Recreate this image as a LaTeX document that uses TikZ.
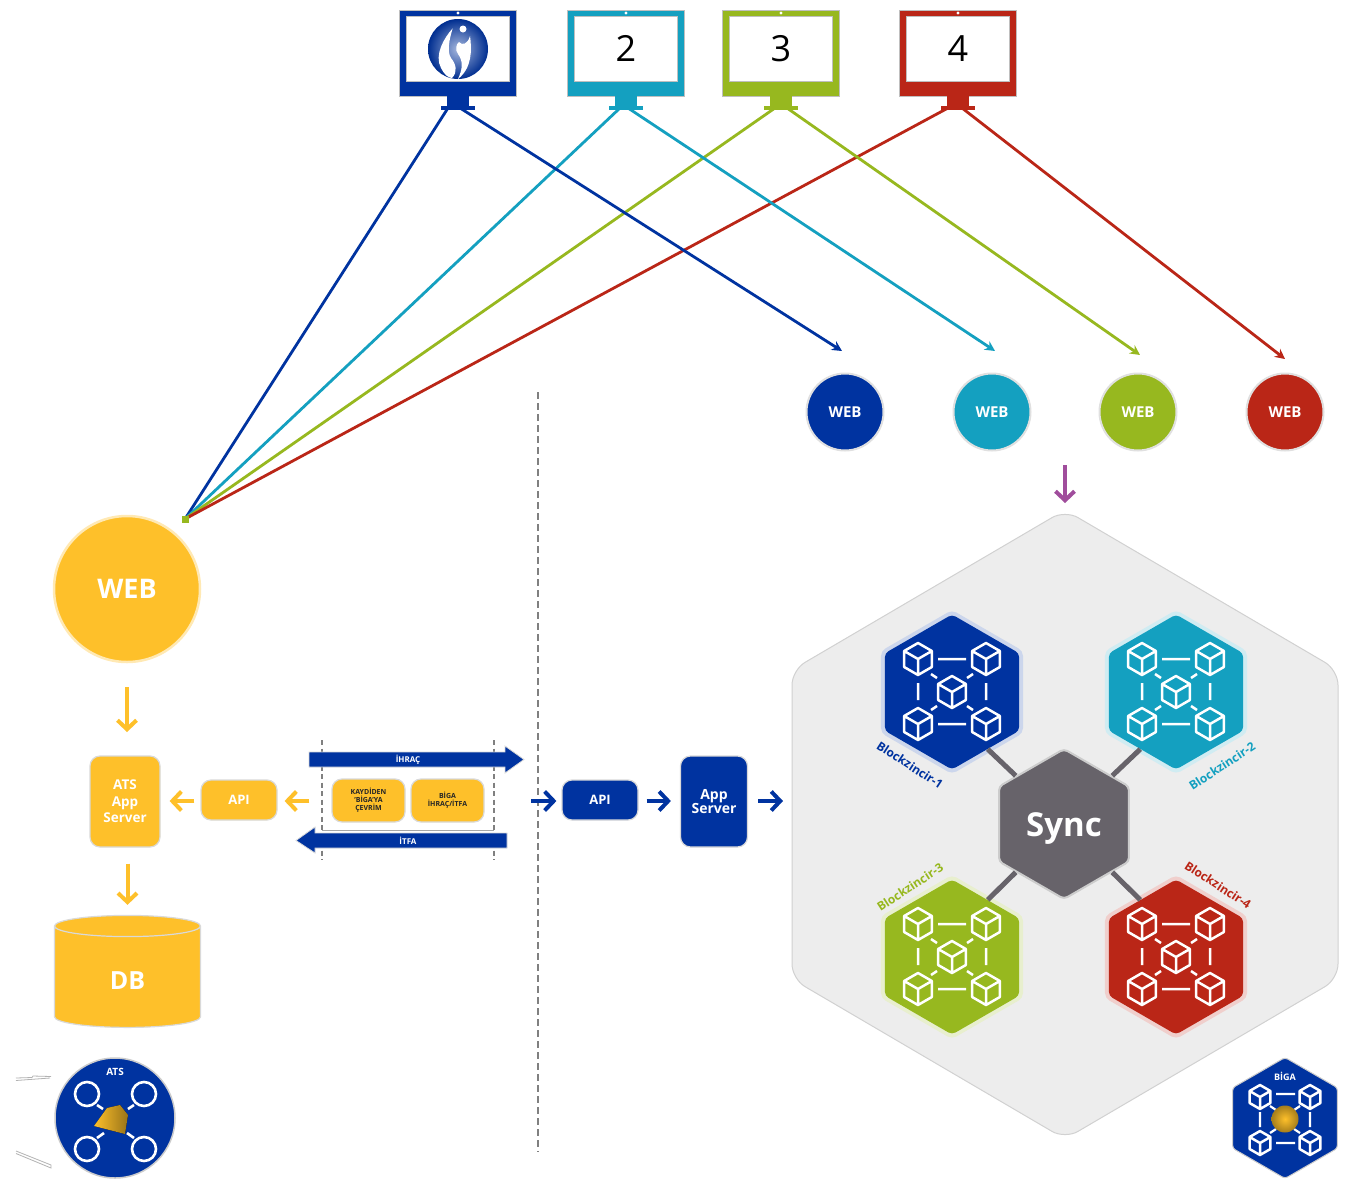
\documentclass[tikz,border=0pt]{standalone}
\usepackage{fontspec}
\setmainfont{Open Sans}
\usetikzlibrary{arrows.meta,shapes.geometric}
\definecolor{cblue}{HTML}{0033A0}
\definecolor{cteal}{HTML}{14A0C0}
\definecolor{cgreen}{HTML}{97B81F}
\definecolor{cred}{HTML}{BA2617}
\definecolor{cyel}{HTML}{FEC02A}
\definecolor{csync}{HTML}{67636A}
\definecolor{cpurple}{HTML}{A04D9C}
\newcommand\fs[1]{\fontsize{#1}{#1}\selectfont}
\tikzset{
  wire/.style={line width=2.8pt,draw=#1,-{Stealth[length=10pt,width=10pt]}},
  wireplain/.style={line width=2.8pt,draw=#1},
  fatarrow/.style={line width=4pt,draw=#1,-{Straight Barb[length=9pt,width=19pt]}},
  webdot/.style={circle,fill=#1,draw=black!12,line width=2pt,minimum size=77pt,inner sep=0pt,text=white,font=\bfseries\fs{15}},
  hexhalo/.style={regular polygon,regular polygon sides=6,shape border rotate=30,minimum size=164pt,inner sep=0pt,fill=#1,rounded corners=5pt},
  hexcore/.style={regular polygon,regular polygon sides=6,shape border rotate=30,minimum size=155pt,inner sep=0pt,fill=#1,rounded corners=4pt},
  ybox/.style={rounded corners=10pt,fill=cyel,draw=black!15,line width=1.2pt,inner sep=0pt,align=center},
  bbox/.style={rounded corners=10pt,fill=cblue,draw=black!15,line width=1.2pt,inner sep=0pt,align=center,text=white},
  screenout/.style={fill=#1,draw=black!25,line width=.8pt,minimum width=117pt,minimum height=86pt,inner sep=0pt},
  screenin/.style={fill=white,draw=black!25,line width=.6pt,minimum width=103pt,minimum height=65pt,inner sep=0pt,font=\fs{36}},
  standneck/.style={fill=#1,minimum width=22pt,minimum height=11pt,inner sep=0pt},
  standfoot/.style={fill=#1,minimum width=34pt,minimum height=4.5pt,inner sep=0pt},
  chainlab/.style={font=\bfseries\fs{12},text=#1,inner sep=0pt},
  guide/.style={draw=black!50,line width=2pt,dash pattern=on 7pt off 4pt},
  guidesmall/.style={draw=black!50,line width=1.2pt,dash pattern=on 5pt off 3.5pt},
  hexlink/.style={draw=csync,line width=5pt},
  iconline/.style={draw=white,line width=2.5pt,line join=round},
  whitelabel/.style={text=white,font=\bfseries\fs{#1},inner sep=0pt,align=center}
}
\newcommand\cubeat[3]{%
  \draw[iconline,shift={(#1,#2)}] (0,-#3) -- ({.866*#3},{-.5*#3}) -- ({.866*#3},{.5*#3}) -- (0,#3) -- ({-.866*#3},{.5*#3}) -- ({-.866*#3},{-.5*#3}) -- cycle
    (0,0) -- ({-.866*#3},{-.5*#3}) (0,0) -- ({.866*#3},{-.5*#3}) (0,0) -- (0,#3);}
\newcommand\chainicon[2]{%
  \begin{scope}[shift={(#1,#2)}]
    \cubeat{-34}{-33}{16}\cubeat{34}{-33}{16}\cubeat{0}{0}{16}\cubeat{-34}{32}{16}\cubeat{34}{32}{16}
    \draw[iconline] (-14,-33) -- (14,-33) (-14,32) -- (14,32) (-34,-9) -- (-34,8) (34,-9) -- (34,8)
      (-21,-18) -- (-15,-14) (21,-18) -- (15,-14) (-21,18) -- (-15,14) (21,18) -- (15,14);
  \end{scope}}
\begin{document}
\begin{tikzpicture}[x=1pt,y=-1pt]
\useasboundingbox (0,0) rectangle (1345,1181);
\fill[white] (0,0) rectangle (1345,1181);

% anchors of the long wires
\coordinate (hub) at (185,519);
\coordinate (m1l) at (448,108); \coordinate (m1r) at (460,108);
\coordinate (m2l) at (620,108); \coordinate (m2r) at (628,108);
\coordinate (m3l) at (775,108); \coordinate (m3r) at (787,108);
\coordinate (m4l) at (948,108); \coordinate (m4r) at (962,108);
\coordinate (t1) at (842,351); \coordinate (t2) at (995,351);
\coordinate (t3) at (1140,355); \coordinate (t4) at (1285,359);

\draw[wireplain=cblue] (m1l) -- (hub);
\draw[wireplain=cteal] (m2l) -- (hub);
\draw[wireplain=cgreen] (m3l) -- (hub);
\draw[wireplain=cred] (m4l) -- (hub);
\draw[wire=cblue] (m1r) -- (t1);
\draw[wire=cteal] (m2r) -- (t2);
\draw[wire=cgreen] (m3r) -- (t3);
\draw[wire=cred] (m4r) -- (t4);
\node[fill=cgreen,minimum size=7pt,inner sep=0pt] (hubdot) at (hub) {};

% monitors
\node[screenout=cblue] (m1) at (458,53) {};
\node[screenin] (s1) at (458,48.5) {};
\node[standneck=cblue] (n1) at (458,101) {};
\node[standfoot=cblue] (b1) at (458,108) {};
\node[screenout=cteal] (m2) at (626,53) {};
\node[screenin] (s2) at (626,48.5) {2};
\node[standneck=cteal] (n2) at (626,101) {};
\node[standfoot=cteal] (b2) at (626,108) {};
\node[screenout=cgreen] (m3) at (781,53) {};
\node[screenin] (s3) at (781,48.5) {3};
\node[standneck=cgreen] (n3) at (781,101) {};
\node[standfoot=cgreen] (b3) at (781,108) {};
\node[screenout=cred] (m4) at (958,53) {};
\node[screenin] (s4) at (958,48.5) {4};
\node[standneck=cred] (n4) at (958,101) {};
\node[standfoot=cred] (b4) at (958,108) {};
\fill[white] (458,13) circle (1.6) (626,13) circle (1.6) (781,13) circle (1.6) (958,13) circle (1.6);

% logo on the first monitor
\shade[inner color=cblue!35,outer color=cblue!90!black] (458,49) circle (30);
\fill[white] (452.7,28.3) .. controls (444,38) and (434,55) .. (441,68) .. controls (444,74) and (448,78) .. (452,78)
  .. controls (458,72) and (456,64) .. (451,58) .. controls (447,52) and (449,40) .. (452.7,28.3) -- cycle;
\fill[white] (470,36) .. controls (472,50) and (472,68) .. (458,79) .. controls (462,70) and (464,62) .. (458,54)
  .. controls (455,50) and (456,44) .. (459,42) .. controls (462,46) and (468,44) .. (470,36) -- cycle;
\fill[white] (463,29) circle (3.5);

% web dots
\node[webdot=cblue] (web1) at (845,412) {WEB};
\node[webdot=cteal] (web2) at (992,412) {WEB};
\node[webdot=cgreen] (web3) at (1138,412) {WEB};
\node[webdot=cred] (web4) at (1285,412) {WEB};
\coordinate (pa) at (1065,465); \coordinate (pb) at (1065,503);
\draw[fatarrow=cpurple] (pa) -- (pb);

% guide line
\coordinate (g1) at (538,392); \coordinate (g2) at (538,1152);
\draw[guide] (g1) -- (g2);

% left column
\node[circle,fill=cyel,draw=cyel!35!white,line width=2.5pt,minimum size=146pt,inner sep=0pt,whitelabel=27] (bigweb) at (127,589) {WEB};
\node[ybox,minimum width=70pt,minimum height=91pt,whitelabel=13.5,fill=cyel,draw=black!15] (atsapp) at (125,801.5) {ATS\\[3pt]App\\[3pt]Server};
\node[ybox,minimum width=76pt,minimum height=40pt,whitelabel=13,fill=cyel,draw=black!15] (yapi) at (239,800) {API};
\node[cylinder,shape border rotate=90,aspect=.6,minimum width=146pt,minimum height=112pt,inner sep=0pt,fill=cyel,draw=black!15,line width=1.2pt,whitelabel=25] (db) at (127.5,977) {\raisebox{-12pt}[0pt][0pt]{DB}};
\draw[fatarrow=cyel,shorten <=24pt,shorten >=1pt] (bigweb.south) -- (127,733);
\draw[fatarrow=cyel,shorten <=16pt,shorten >=10pt] (atsapp.south -| db.center) -- (db.north);
\draw[fatarrow=cyel,shorten <=6pt,shorten >=9pt] (yapi.west |- 801,801) -- (atsapp.east |- 801,801);

% export/import frame
\coordinate (f1a) at (322,740); \coordinate (f1b) at (322,860);
\coordinate (f2a) at (494,740); \coordinate (f2b) at (494,860);
\draw[guidesmall] (f1a) -- (f1b);
\draw[guidesmall] (f2a) -- (f2b);
\draw[black!35,line width=.8pt] (f1a |- 322,830) -- (f2a |- 494,830);
\node[ybox,minimum width=73pt,minimum height=43pt,font=\bfseries\fs{7},text=black!85] (conv) at (368.5,800.5) {KAYDİDEN\\[1pt]'BİGA'YA\\[1pt]ÇEVRİM};
\node[ybox,minimum width=73pt,minimum height=43pt,font=\bfseries\fs{7},text=black!85] (biga) at (447.5,800.5) {BİGA\\[1pt]İHRAÇ/İTFA};
\draw[fatarrow=cyel,shorten <=22pt,shorten >=7pt] (conv.west |- 801,801) -- (yapi.east |- 801,801);
\fill[cblue,draw=black!15,line width=.8pt] (309,752) -- (505,752) -- (505,746) -- (524,759.5) -- (505,773) -- (505,767) -- (309,767) -- cycle;
\node[whitelabel=8] (ihrac) at (408,759.5) {İHRAÇ};
\fill[cblue,draw=black!15,line width=.8pt] (507,833) -- (315,833) -- (315,827) -- (296,840.5) -- (315,853) -- (315,848) -- (507,848) -- cycle;
\node[whitelabel=8] (itfa) at (408,840.5) {İTFA};

% middle column
\coordinate (xin) at (531,801);
\node[bbox,minimum width=76pt,minimum height=40pt,whitelabel=13,fill=cblue] (bapi) at (600,800) {API};
\node[bbox,minimum width=67pt,minimum height=91pt,whitelabel=14,fill=cblue] (appb) at (714,801.5) {App\\Server};
\coordinate (hexl) at (792,801);
\draw[fatarrow=cblue,shorten >=5pt] (xin) -- (bapi.west |- 801,801);
\draw[fatarrow=cblue,shorten <=8pt,shorten >=9pt] (bapi.east |- 801,801) -- (appb.west |- 801,801);
\draw[fatarrow=cblue,shorten <=10pt,shorten >=9pt] (appb.east |- 801,801) -- (hexl);

% large hexagon
\draw[fill=black!7,draw=black!18,line width=1pt,rounded corners=15pt] (1065,510) -- (1338,670) -- (1338,979) -- (1065,1139) -- (792,979) -- (792,670) -- cycle;

% chain hexagons
\node[hexhalo=cblue!20!white] (h1halo) at (952,692) {};
\node[hexcore=cblue] (h1) at (952,692) {};
\node[hexhalo=cteal!20!white] (h2halo) at (1176,692) {};
\node[hexcore=cteal] (h2) at (1176,692) {};
\node[hexhalo=cgreen!22!white] (h3halo) at (952,957) {};
\node[hexcore=cgreen] (h3) at (952,957) {};
\node[hexhalo=cred!22!white] (h4halo) at (1176,957) {};
\node[hexcore=cred] (h4) at (1176,957) {};
\chainicon{952}{692}\chainicon{1176}{692}\chainicon{952}{957}\chainicon{1176}{957}
\node[regular polygon,regular polygon sides=6,shape border rotate=30,minimum size=150pt,inner sep=0pt,fill=csync,draw=black!20,line width=2pt,rounded corners=4pt,text=white,font=\bfseries\fs{33}] (sync) at (1064,824) {\raisebox{-12pt}[0pt][0pt]{Sync}};
\draw[hexlink] (sync.135) -- (h1.-58);
\draw[hexlink] (sync.45) -- (h2.-122);
\draw[hexlink] (sync.-135) -- (h3.58);
\draw[hexlink] (sync.-45) -- (h4.122);
\node[chainlab=cblue,rotate=-33] (l1) at (910,765) {Blockzincir-1};
\node[chainlab=cteal,rotate=33] (l2) at (1222,766) {Blockzincir-2};
\node[chainlab=cgreen,rotate=33] (l3) at (910,887) {Blockzincir-3};
\node[chainlab=cred,rotate=-33] (l4) at (1218,885) {Blockzincir-4};

% ATS badge
\node[circle,fill=cblue,draw=black!20,line width=1.5pt,minimum size=120pt,inner sep=0pt] (ats) at (115,1118) {};
\node[whitelabel=10] (atst) at (115,1072) {ATS};
\draw[iconline,line width=2.6pt] (87,1094) circle (12) (144,1094) circle (12) (87,1149) circle (12) (144,1149) circle (12)
  (97,1105) -- (103,1109) (134,1105) -- (128,1109) (97,1138) -- (104,1133) (134,1138) -- (127,1133);
\fill[left color=cyel,right color=cyel!60!black] (94,1126) -- (107,1108) -- (120,1105) -- (128,1115) -- (125,1134) -- cycle;
\draw[black!30,line width=.8pt] (16,1078) -- (32,1077.5) -- (33,1076) -- (51,1076.5) (16,1080.5) -- (50,1078);
\draw[black!30,line width=.8pt] (16,1151) -- (51,1165) -- (51,1168) -- (16,1153.5);

% BIGA badge
\node[regular polygon,regular polygon sides=6,shape border rotate=30,minimum size=121pt,inner sep=0pt,fill=cblue,draw=black!20,line width=1pt,rounded corners=3pt] (bb) at (1285,1118) {};
\node[whitelabel=9] (bbt) at (1285,1076) {BİGA};
\cubeat{1260}{1097}{12}\cubeat{1310}{1097}{12}\cubeat{1260}{1143}{12}\cubeat{1310}{1143}{12}
\draw[iconline,line width=2.2pt] (1276,1094) -- (1295,1094) (1276,1143) -- (1295,1143) (1260,1112) -- (1260,1127) (1310,1112) -- (1310,1127)
  (1270,1106) -- (1276,1110) (1300,1106) -- (1294,1110) (1270,1133) -- (1276,1129) (1300,1133) -- (1294,1129);
\node[circle,inner color=cyel,outer color=cyel!65!black,minimum size=27pt,inner sep=0pt] (gold) at (1285,1119) {};
\end{tikzpicture}
\end{document}
